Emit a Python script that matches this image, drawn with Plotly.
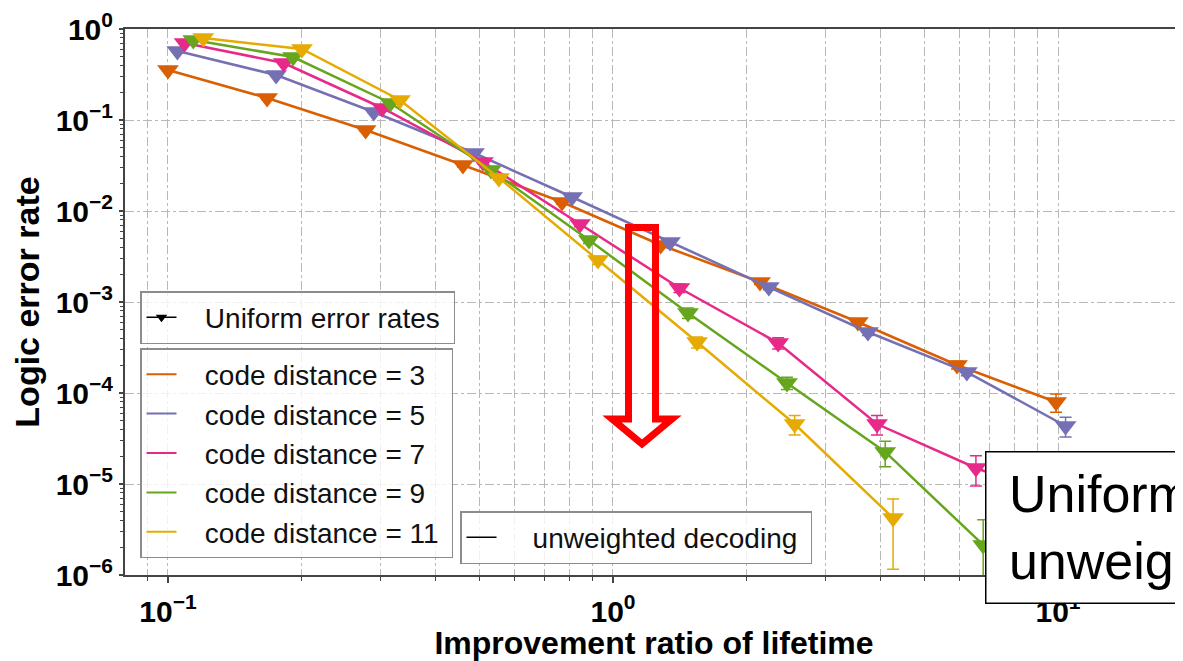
import plotly.graph_objects as go

# ---------------- data ----------------
distances = [3, 5, 7, 9, 11]
colors = ["#D95F02", "#7570B3", "#E7298A", "#66A61E", "#E6AB02"]

x_d3 = [0.1, 0.167, 0.278, 0.46, 0.768, 1.28, 2.14, 3.55, 5.93, 9.9]
y_d3 = [0.354, 0.1745, 0.0777, 0.032, 0.01256, 0.00423, 0.00166, 6.03e-4, 2.03e-4, 7.96e-5]
e_d3 = [0.01, 0.006, 0.003, 0.0015, 6e-4, 2.5e-4, 1e-4, 4e-5, 2e-5, 1.8e-5]

x_d5 = [0.105, 0.175, 0.29, 0.487, 0.809, 1.343, 2.24, 3.74, 6.24, 10.4]
y_d5 = [0.573, 0.312, 0.1224, 0.0434, 0.01425, 0.00456, 0.00146, 4.68e-4, 1.70e-4, 4.34e-5]
e_d5 = [0.01, 0.006, 0.003, 0.0015, 6e-4, 2.5e-4, 1e-4, 4e-5, 1.5e-5, 1.06e-5]

x_d7 = [0.109, 0.182, 0.303, 0.51, 0.843, 1.41, 2.35, 3.92, 6.54, 10.9]
y_d7 = [0.702, 0.423, 0.1355, 0.0346, 0.0072, 0.001425, 3.54e-4, 4.56e-5, 1.5e-5, 6e-6]
e_d7 = [0.01, 0.007, 0.003, 0.0015, 5e-4, 1.5e-4, 5e-5, 1.1e-5, 5.5e-6, 3e-6]

x_d9 = [0.114, 0.191, 0.316, 0.532, 0.883, 1.474, 2.46, 4.09, 6.79]
y_d9 = [0.757, 0.492, 0.1538, 0.0282, 0.0048, 7.57e-4, 1.29e-4, 2.25e-5, 2.14e-6]
e_d9 = [0.01, 0.007, 0.003, 0.0014, 4e-4, 1e-4, 2e-5, 7e-6, 1.9e-6]

x_d11 = [0.12, 0.2, 0.332, 0.554, 0.925, 1.545, 2.56, 4.26]
y_d11 = [0.796, 0.603, 0.166, 0.0231, 0.00289, 3.63e-4, 4.56e-5, 4.23e-6]
e_d11 = [0.01, 0.008, 0.003, 0.0013, 3e-4, 5e-5, 1.1e-5, 2.6e-6]
em_d11 = [0.01, 0.008, 0.003, 0.0013, 3e-4, 5e-5, 1.1e-5, 3.07e-6]

series_x = [x_d3, x_d5, x_d7, x_d9, x_d11]
series_y = [y_d3, y_d5, y_d7, y_d9, y_d11]
series_ep = [e_d3, e_d5, e_d7, e_d9, e_d11]
series_em = [e_d3, e_d5, e_d7, e_d9, em_d11]

x_tickvals = [0.1, 1, 10]
x_ticktext = ["10<sup>\u22121</sup>", "10<sup>0</sup>", "10<sup>1</sup>"]
y_tickvals = [1e-6, 1e-5, 1e-4, 1e-3, 1e-2, 1e-1, 1]
y_ticktext = ["10<sup>\u2212%d</sup>" % k for k in (6, 5, 4, 3, 2, 1)] + ["10<sup>0</sup>"]

FONT = "Liberation Sans, Arial, sans-serif"
NB = "\u00a0"
TS = "\u2009"

# page offset (body margin) and plot-area geometry in page pixels (decorations only)
OFF = 8
L, T, W, H = 125, 29, 1058, 546
FIG_W, FIG_H = 1183 - OFF, 661 - OFF


def paper(px, py):
    return ((px - L) / W, (T + H - py) / H)


fig = go.Figure()

for d, c, xs, ys, ep, em in zip(distances, colors, series_x, series_y, series_ep, series_em):
    fig.add_trace(go.Scatter(
        x=xs, y=ys, mode="lines+markers",
        line=dict(color=c, width=2.5),
        marker=dict(symbol="triangle-down", size=19, color=c),
        error_y=dict(type="data", array=ep, arrayminus=em, color=c,
                     thickness=1.5, width=6, symmetric=False),
        showlegend=False,
    ))

# legend entries
fig.add_trace(go.Scatter(
    x=[None], y=[None], mode="lines+markers", name=NB * 3 + "Uniform error rates" + NB,
    line=dict(color="black", width=1.5),
    marker=dict(symbol="triangle-down", size=10, color="black"),
    legend="legend"))
for d, c in zip(distances, colors):
    fig.add_trace(go.Scatter(
        x=[None], y=[None], mode="lines", name=NB * 3 + "code distance = %d" % d + NB,
        line=dict(color=c, width=2), legend="legend2", legendgroup="g%d" % d))
fig.add_trace(go.Scatter(
    x=[None], y=[None], mode="lines", name=NB * 4 + "unweighted decoding" + NB,
    line=dict(color="black", width=1.5), legend="legend3"))

grid = dict(gridcolor="#b8b8b8", gridwidth=1, griddash="dashdot")

legend_common = dict(xanchor="left", yanchor="top", bgcolor="rgba(255,255,255,0.8)",
                     bordercolor="#8c8c8c", borderwidth=1.5,
                     font=dict(family=FONT, size=28, color="#111"))

lx1, ly1 = paper(140, 291)
lx2, ly2 = paper(140, 348)
lx3, ly3 = paper(460, 511)

fig.update_layout(
    width=FIG_W, height=FIG_H,
    margin=dict(l=L - OFF, r=0, t=T - OFF, b=FIG_H - (T - OFF) - H),
    paper_bgcolor="white", plot_bgcolor="white",
    font=dict(family=FONT, color="black"),
    xaxis=dict(
        type="log", range=[-1.0966, 1.2809],
        tickvals=x_tickvals, ticktext=x_ticktext,
        tickfont=dict(size=30, weight="bold", color="black"),
        ticks="outside", ticklen=6, tickwidth=1.5, tickcolor="#444",
        ticklabelstandoff=3, ticklabeloverflow="allow",
        showline=True, linecolor="#444", linewidth=2, mirror=True,
        showgrid=True, **grid,
        minor=dict(dtick="D1", ticks="outside", ticklen=4, tickwidth=1, tickcolor="#444",
                   showgrid=True, **grid),
        title=dict(text="Improvement ratio of lifetime",
                   font=dict(size=32, weight="bold", color="black"), standoff=6),
        zeroline=False,
    ),
    yaxis=dict(
        type="log", range=[-6, 0],
        tickvals=y_tickvals, ticktext=y_ticktext,
        tickfont=dict(size=30, weight="bold", color="black"),
        ticks="outside", ticklen=4, tickwidth=1.5, tickcolor="#444",
        ticklabeloverflow="allow",
        showline=True, linecolor="#444", linewidth=2, mirror=False,
        showgrid=True, **grid,
        minor=dict(dtick="D1", ticks="outside", ticklen=3, tickwidth=1, tickcolor="#444",
                   showgrid=False),
        title=dict(text="Logic error rate",
                   font=dict(size=34, weight="bold", color="black"), standoff=6),
        zeroline=False,
    ),
    legend=dict(x=lx1, y=ly1, **legend_common),
    legend2=dict(x=lx2, y=ly2, traceorder="grouped", tracegroupgap=0, **legend_common),
    legend3=dict(x=lx3, y=ly3, **legend_common),
)

# hollow red arrow
pts = [paper(628.5, 227.5), paper(655.5, 227.5), paper(655.5, 419), paper(672, 419),
       paper(642, 444), paper(612, 419), paper(628.5, 419)]
path = "M " + " L ".join("%.5f,%.5f" % p for p in pts) + " Z"
fig.add_shape(type="path", xref="paper", yref="paper", path=path,
              line=dict(color="#FF0000", width=7), fillcolor="rgba(0,0,0,0)", layer="above")

bx, by = paper(985, 451)
fig.add_annotation(
    xref="paper", yref="paper", x=bx, y=by, xanchor="left", yanchor="top",
    text=TS + "Uniform error rates,<br>" + TS + "unweighted decoding", align="left",
    showarrow=False, font=dict(family=FONT, size=52, color="black"),
    bgcolor="white", bordercolor="black", borderwidth=1.5, borderpad=12)

fig.write_html("out.html")
